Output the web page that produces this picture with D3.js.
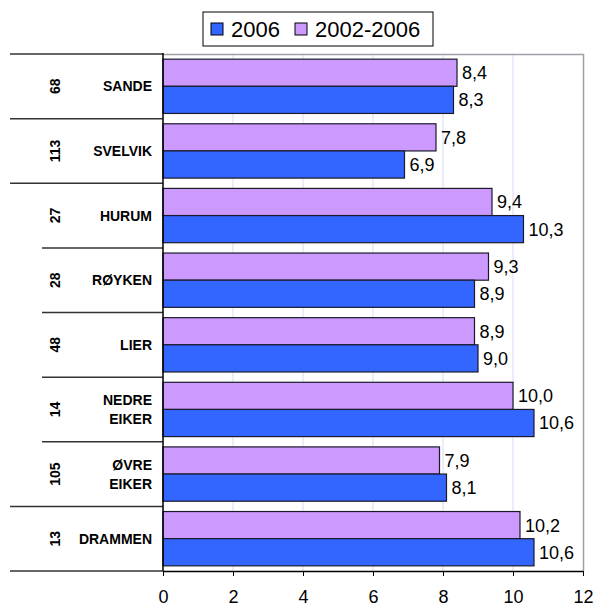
<!DOCTYPE html>
<html>
<head>
<meta charset="utf-8">
<script src="https://cdn.jsdelivr.net/npm/d3@7"></script>
<style>
	body { margin: 0; background: #fff; }
	text { font-family: Arial, "Liberation Sans", sans-serif; }
</style>
</head>
<body>
<div class="chart"></div>
<script>
// data
const kommuner = ['SANDE', 'SVELVIK', 'HURUM', 'RØYKEN', 'LIER', 'NEDRE EIKER', 'ØVRE EIKER', 'DRAMMEN'];
const rangering = [68, 113, 27, 28, 48, 14, 105, 13];
const verdi2006 = [8.3, 6.9, 10.3, 8.9, 9.0, 10.6, 8.1, 10.6];
const verdi0206 = [8.4, 7.8, 9.4, 9.3, 8.9, 10.0, 7.9, 10.2];
const serier = ['2006', '2002-2006'];
const xTicks = [0, 2, 4, 6, 8, 10, 12];

const W = 594, H = 606;
const plot = { left: 163, right: 583, top: 54, bottom: 571 };
const colors = { '2006': '#3366ff', '2002-2006': '#cc99ff' };

const rows = kommuner.map((k, i) => ({
	name: k,
	rank: rangering[i],
	values: [
		{ key: '2002-2006', v: verdi0206[i] },
		{ key: '2006', v: verdi2006[i] }
	]
}));

const svg = d3.select('.chart')
	.append('svg')
		.attr('width', W)
		.attr('height', H);

const xScale = d3.scaleLinear()
	.domain([0, 12])
	.range([plot.left, plot.right]);

const yScale = d3.scaleBand()
	.domain(kommuner)
	.range([plot.top, plot.bottom])
	.paddingInner(0)
	.paddingOuter(0);

const yInner = d3.scaleBand()
	.domain(['2002-2006', '2006'])
	.range([0, yScale.bandwidth()])
	.paddingInner(0)
	.paddingOuter(0.19);

// gridlines
svg.append('g')
	.selectAll('line')
	.data(xTicks.slice(1, -1))
	.enter()
	.append('line')
		.attr('x1', d => xScale(d))
		.attr('x2', d => xScale(d))
		.attr('y1', plot.top)
		.attr('y2', plot.bottom)
		.attr('stroke', '#d9d9f5')
		.attr('stroke-width', 1);

// plot frame (top + right)
svg.append('path')
	.attr('d', `M${plot.left},${plot.top + 0.5}H${plot.right + 0.5}V${plot.bottom}`)
	.attr('fill', 'none')
	.attr('stroke', '#a0a0a8')
	.attr('stroke-width', 1.5);

// bars
const groups = svg.selectAll('.grp')
	.data(rows)
	.enter()
	.append('g')
		.attr('class', 'grp')
		.attr('transform', d => `translate(0, ${yScale(d.name)})`);

groups.selectAll('rect')
	.data(d => d.values)
	.enter()
	.append('rect')
		.attr('x', xScale(0))
		.attr('y', d => yInner(d.key))
		.attr('width', d => xScale(d.v) - xScale(0))
		.attr('height', yInner.bandwidth())
		.attr('fill', d => colors[d.key])
		.attr('stroke', '#1a1a2a')
		.attr('stroke-width', 1.2);

groups.selectAll('.val')
	.data(d => d.values)
	.enter()
	.append('text')
		.attr('class', 'val')
		.attr('x', d => xScale(d.v) + 5)
		.attr('y', d => yInner(d.key) + yInner.bandwidth() / 2)
		.attr('dy', '0.36em')
		.style('font-size', '18px')
		.style('fill', '#000')
		.text(d => d3.format('.1f')(d.v).replace('.', ','));

// left table: names and ranks
groups.append('text')
	.attr('text-anchor', 'end')
	.attr('x', 152)
	.attr('y', yScale.bandwidth() / 2)
	.style('font-size', '14px')
	.style('font-weight', 'bold')
	.each(function (d) {
		const parts = d.name.split(' ');
		const t = d3.select(this);
		parts.forEach((p, j) => {
			t.append('tspan')
				.attr('x', 152)
				.attr('y', yScale.bandwidth() / 2 + (j - (parts.length - 1) / 2) * 19)
				.attr('dy', '0.36em')
				.text(p);
		});
	});

groups.append('text')
	.attr('text-anchor', 'middle')
	.attr('transform', `translate(55, ${yScale.bandwidth() / 2}) rotate(-90)`)
	.attr('dy', '0.36em')
	.style('font-size', '14px')
	.style('font-weight', 'bold')
	.text(d => d.rank);

// row separators (some start further right)
const longLines = [0, 1, 2, 7, 8];
svg.append('g')
	.selectAll('line')
	.data(d3.range(kommuner.length + 1))
	.enter()
	.append('line')
		.attr('x1', i => longLines.includes(i) ? 10 : 42)
		.attr('x2', plot.left)
		.attr('y1', i => plot.top + i * yScale.step())
		.attr('y2', i => plot.top + i * yScale.step())
		.attr('stroke', '#333')
		.attr('stroke-width', 1.5);

// vertical line of category axis
svg.append('line')
	.attr('x1', plot.left)
	.attr('x2', plot.left)
	.attr('y1', plot.top - 1)
	.attr('y2', plot.bottom)
	.attr('stroke', '#000')
	.attr('stroke-width', 1.5);

// x axis
const xAxis = d3.axisBottom(xScale)
	.tickValues(xTicks)
	.tickSize(5)
	.tickPadding(14)
	.tickSizeOuter(0)
	.tickFormat(d3.format('d'));

const gx = svg.append('g')
	.attr('transform', `translate(0, ${plot.bottom})`)
	.call(xAxis);
gx.select('.domain').attr('stroke', '#000').attr('stroke-width', 1.5);
gx.selectAll('.tick line').attr('stroke', '#000');
gx.selectAll('.tick text')
	.style('font-size', '18px')
	.style('font-family', 'Arial, "Liberation Sans", sans-serif')
	.attr('fill', '#000');

// legend
const legend = svg.append('g')
	.attr('transform', 'translate(203, 12)');
legend.append('rect')
	.attr('width', 230)
	.attr('height', 34)
	.attr('fill', '#fff')
	.attr('stroke', '#000')
	.attr('stroke-width', 1);

const legendX = [8, 92];
const items = legend.selectAll('.item')
	.data(serier)
	.enter()
	.append('g')
		.attr('class', 'item')
		.attr('transform', (d, i) => `translate(${legendX[i]}, 0)`);
items.append('rect')
	.attr('y', 11)
	.attr('width', 12)
	.attr('height', 12)
	.attr('fill', d => colors[d])
	.attr('stroke', '#000');
items.append('text')
	.attr('x', 20)
	.attr('y', 17)
	.attr('dy', '0.36em')
	.style('font-size', '22px')
	.text(d => d);
</script>
</body>
</html>
